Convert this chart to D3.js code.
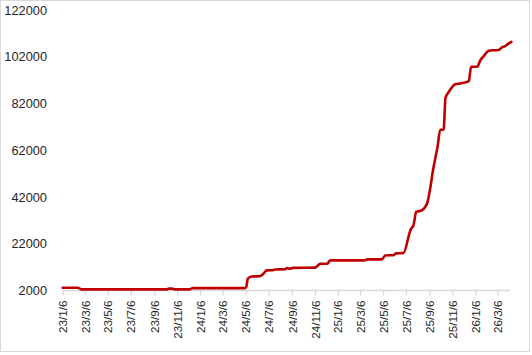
<!DOCTYPE html>
<html>
<head>
<meta charset="utf-8">
<script src="https://cdn.jsdelivr.net/npm/d3@7/dist/d3.min.js"></script>
<style>
  html, body { margin: 0; padding: 0; background: #fff; }
  svg { display: block; }
</style>
</head>
<body>
<svg id="chart" width="532" height="355"></svg>
<script>
// ---- data ----
const dates = [
  "2023-01-06","2023-02-15","2023-02-26","2023-10-10","2023-10-15","2023-10-23","2023-10-31",
  "2023-12-10","2023-12-18","2024-05-02","2024-05-07","2024-05-12","2024-05-22","2024-06-13",
  "2024-06-21","2024-07-01","2024-07-18","2024-07-23","2024-08-19","2024-08-24","2024-09-01",
  "2024-09-09","2024-11-07","2024-11-20","2024-12-09","2024-12-17","2025-03-17","2025-03-25",
  "2025-05-03","2025-05-12","2025-06-02","2025-06-10","2025-06-29","2025-07-19","2025-07-26",
  "2025-08-02","2025-08-17","2025-08-31","2025-09-09","2025-09-15","2025-09-20","2025-09-28",
  "2025-10-05","2025-10-14","2025-10-19","2025-10-28","2025-11-14","2025-11-27","2025-12-20",
  "2025-12-26","2026-01-11","2026-01-20","2026-01-29","2026-02-11","2026-03-09","2026-03-18",
  "2026-03-27","2026-04-05","2026-04-12"
];
const values = [
  3200, 3200, 2500, 2500, 2800, 2800, 2500,
  2500, 3000, 3000, 3300, 7100, 8000, 8100,
  9000, 10600, 10700, 11000, 11100, 11600, 11300,
  11700, 11800, 13400, 13500, 14900, 14900, 15300,
  15300, 17000, 17100, 17900, 18000, 28300, 29900,
  35600, 36300, 39200, 46300, 52700, 57000, 63600,
  70800, 70800, 84400, 87000, 90200, 90600, 91600,
  97700, 97700, 100600, 102400, 104600, 104900, 106000,
  106600, 107700, 108400
];
const yTicks = [2000, 22000, 42000, 62000, 82000, 102000, 122000];
const xTickDates = [
  "2023-01-06","2023-03-06","2023-05-06","2023-07-06","2023-09-06","2023-11-06",
  "2024-01-06","2024-03-06","2024-05-06","2024-07-06","2024-09-06","2024-11-06",
  "2025-01-06","2025-03-06","2025-05-06","2025-07-06","2025-09-06","2025-11-06",
  "2026-01-06","2026-03-06"
];
const xDomain = ["2023-01-06", "2026-04-11"];

// ---- drawing ----
const parse = d3.utcParse("%Y-%m-%d");
const data = dates.map((d, i) => ({ date: parse(d), value: values[i] }));

const svg = d3.select("#chart");

// outer border
svg.append("rect")
  .attr("x", 0.5).attr("y", 0.5)
  .attr("width", 529).attr("height", 351)
  .attr("fill", "#fff").attr("stroke", "#d9d9d9").attr("stroke-width", 1);

const x = d3.scaleUtc()
  .domain(xDomain.map(parse))
  .range([62.7, 511]);

const y = d3.scaleLinear()
  .domain([2000, 122000])
  .range([290.5, 10]);

// y axis labels (no line)
const yAxis = d3.axisLeft(y).tickValues(yTicks).tickSize(0).tickPadding(0)
  .tickFormat(d3.format("d"));
const gy = svg.append("g").attr("transform", "translate(47,0)").call(yAxis);
gy.select(".domain").remove();
gy.selectAll("text")
  .attr("font-family", "Liberation Sans, Arial, sans-serif")
  .attr("font-size", "12.8px")
  .attr("fill", "#262626");

// x axis
const fmt = d => `${d.getUTCFullYear() % 100}/${d.getUTCMonth() + 1}/${d.getUTCDate()}`;
const xAxis = d3.axisBottom(x)
  .tickValues(xTickDates.map(parse))
  .tickSizeInner(5).tickSizeOuter(0)
  .tickFormat(fmt);
const gx = svg.append("g").attr("transform", "translate(0,290.5)").call(xAxis);
gx.select(".domain").attr("stroke", "#d9d9d9").attr("stroke-width", 1.3)
  .attr("d", `M${x.range()[0]},0H${x.range()[1] - 1}`);
gx.selectAll(".tick line").attr("stroke", "#d9d9d9").attr("stroke-width", 1.3);
gx.selectAll(".tick text")
  .attr("font-family", "Liberation Sans, Arial, sans-serif")
  .attr("font-size", "11.7px")
  .attr("fill", "#262626")
  .attr("transform", "rotate(-90)")
  .attr("text-anchor", "end")
  .attr("dy", "0.35em")
  .attr("x", -10)
  .attr("y", 0);

// line
const line = d3.line()
  .x(d => x(d.date))
  .y(d => y(d.value))
  .curve(d3.curveMonotoneX);

svg.append("path")
  .datum(data)
  .attr("fill", "none")
  .attr("stroke", "#C00000")
  .attr("stroke-width", 2.6)
  .attr("stroke-linejoin", "round")
  .attr("stroke-linecap", "round")
  .attr("d", line);
</script>
</body>
</html>
